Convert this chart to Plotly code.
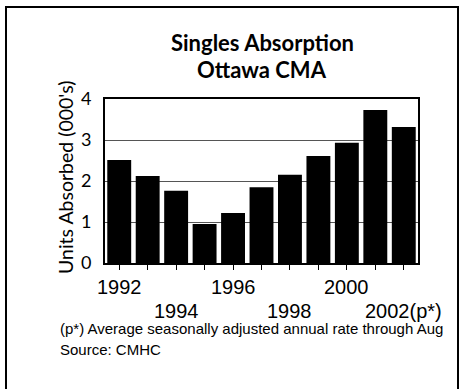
import plotly.graph_objects as go

years = [1992, 1993, 1994, 1995, 1996, 1997, 1998, 1999, 2000, 2001, 2002]
absorbed = [2.51, 2.12, 1.76, 0.95, 1.22, 1.85, 2.15, 2.61, 2.93, 3.73, 3.32]
row1_labels = {1992: "1992", 1996: "1996", 2000: "2000"}
row2_labels = {1994: "1994", 1998: "1998", 2002: "2002(p*)"}
y_ticks = [0, 1, 2, 3, 4]

title_lines = ["Singles Absorption", "Ottawa CMA"]
y_title = "Units Absorbed (000's)"
footnote = "(p*) Average seasonally adjusted annual rate through Aug"
source = "Source: CMHC"

fig = go.Figure()
fig.add_trace(go.Bar(x=years, y=absorbed, marker=dict(color="black", line=dict(width=0))))

W, H = 459, 389
L, R, T, B = 105, 41, 99, 126
pw, ph = W - L - R, H - T - B

def px_x(px):
    return (px - L) / pw

def px_y(py):
    return (H - B - py) / ph

ann = []
for yr, t in row1_labels.items():
    ann.append(dict(x=yr, y=px_y(287), xref="x", yref="paper", text=t, showarrow=False,
                    font=dict(family="Liberation Sans, Arial", size=20, color="black"),
                    xanchor="center", yanchor="middle"))
for yr, t in row2_labels.items():
    ann.append(dict(x=yr, y=px_y(311), xref="x", yref="paper", text=t, showarrow=False,
                    font=dict(family="Liberation Sans, Arial", size=20, color="black"),
                    xanchor="center", yanchor="middle"))
for line, cy in zip(title_lines, [43, 69]):
    ann.append(dict(x=px_x(262), y=px_y(cy), xref="paper", yref="paper",
                    text="<b>" + line + "</b>",
                    showarrow=False, font=dict(family="Lato", size=22, color="black"),
                    xanchor="center", yanchor="middle"))
ann.append(dict(x=px_x(65), y=px_y(178), xref="paper", yref="paper", text=y_title,
                textangle=-90, showarrow=False, font=dict(family="Lato", size=19.5, color="black"),
                xanchor="center", yanchor="middle"))
ann.append(dict(x=px_x(59), y=px_y(328), xref="paper", yref="paper", text=footnote,
                showarrow=False, font=dict(family="Liberation Sans, Arial", size=15, color="black"),
                xanchor="left", yanchor="middle", align="left", borderpad=0))
ann.append(dict(x=px_x(59), y=px_y(349), xref="paper", yref="paper", text=source,
                showarrow=False, font=dict(family="Liberation Sans, Arial", size=15, color="black"),
                xanchor="left", yanchor="middle", align="left", borderpad=0))

fig.update_layout(
    width=W, height=H,
    margin=dict(l=L, r=R, t=T, b=B),
    paper_bgcolor="white", plot_bgcolor="white",
    showlegend=False, bargap=0.16,
    annotations=ann,
    shapes=[dict(type="rect", xref="paper", yref="paper",
                 x0=px_x(6), x1=px_x(458), y0=px_y(400), y1=px_y(7),
                 line=dict(color="black", width=2))],
    xaxis=dict(range=[1991.5, 2002.5], tickvals=years, showticklabels=False,
               ticks="outside", ticklen=5, tickcolor="black", tickwidth=1,
               showline=True, linecolor="black", linewidth=2, mirror=True,
               showgrid=False, zeroline=False),
    yaxis=dict(range=[0, 4], tickvals=y_ticks, ticks="", ticklabelstandoff=8,
               tickfont=dict(family="Lato", size=18, color="black"),
               showline=True, linecolor="black", linewidth=2, mirror=True,
               showgrid=True, gridcolor="#555555", gridwidth=1, zeroline=False),
)

fig.write_html("out.html")
